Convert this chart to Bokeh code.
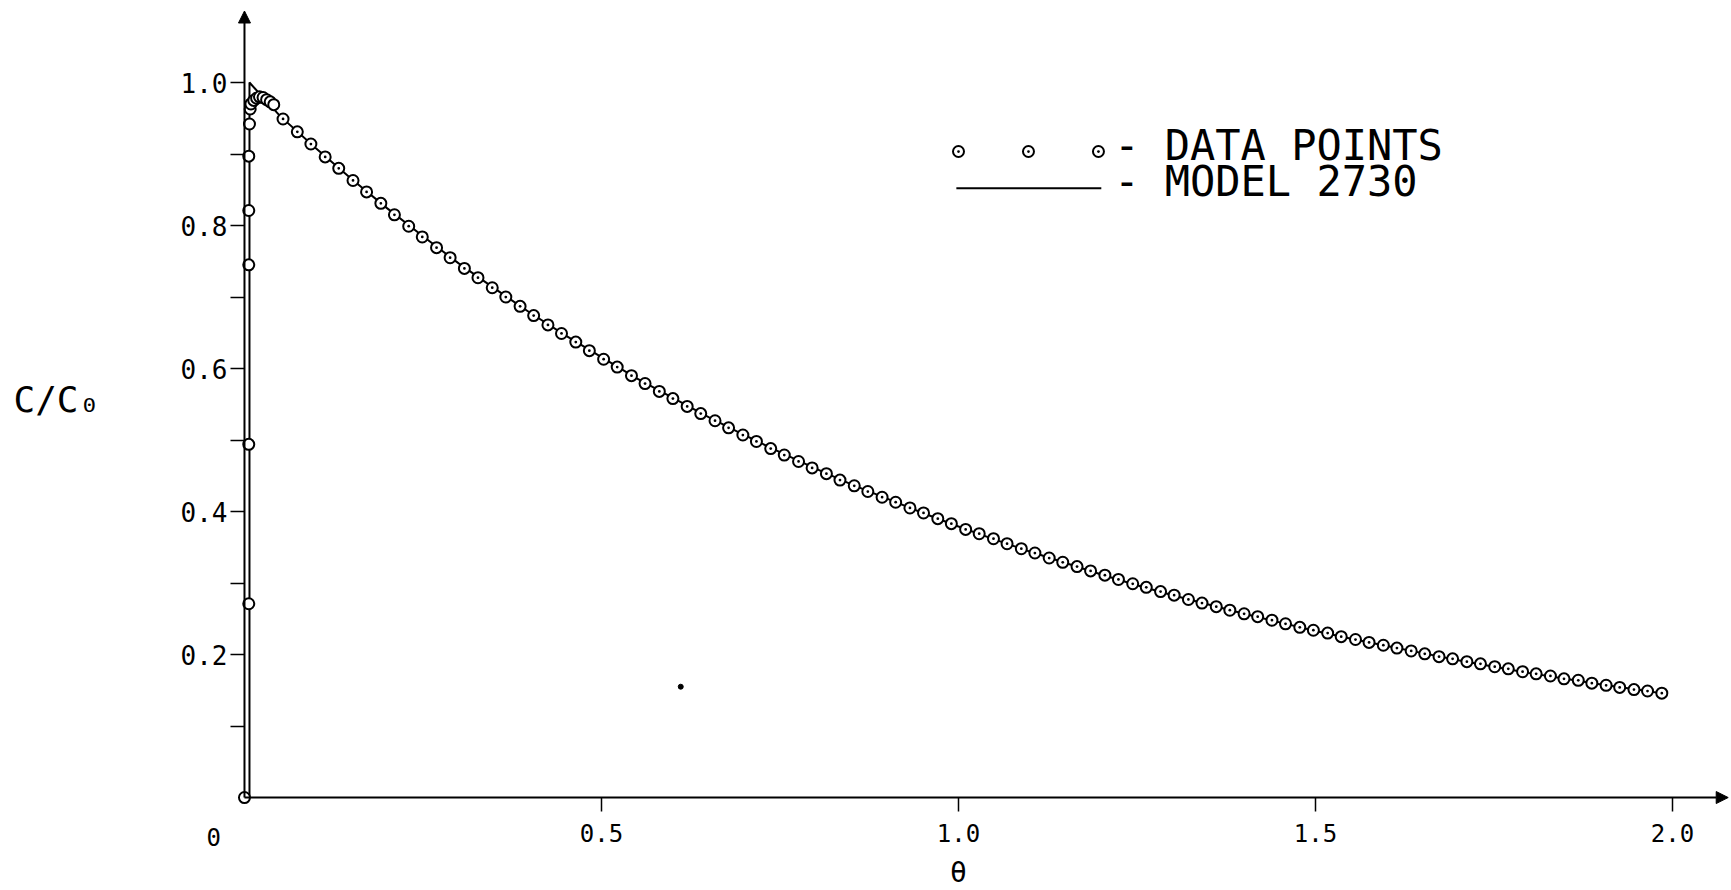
from bokeh.plotting import figure
from bokeh.models import (Range1d, LinearAxis, FixedTicker, Arrow, NormalHead,
                          Label, PrintfTickFormatter)
from bokeh.embed import file_html
from bokeh.resources import INLINE

# ---------------- data ----------------
# start-up points (vertical rise right after theta = 0)
theta_start = [0.000, 0.006, 0.006, 0.006, 0.006, 0.006, 0.007, 0.008, 0.009,
               0.013, 0.017, 0.021, 0.026, 0.031, 0.036, 0.041]
c_start = [0.000, 0.271, 0.494, 0.745, 0.821, 0.897, 0.942, 0.963, 0.970,
           0.975, 0.978, 0.980, 0.979, 0.976, 0.973, 0.969]

theta_data = [0.054, 0.074, 0.093, 0.113, 0.132, 0.152, 0.171, 0.191, 0.210, 0.230,
              0.249, 0.269, 0.288, 0.308, 0.327, 0.347, 0.366, 0.386, 0.405, 0.425,
              0.444, 0.464, 0.483, 0.503, 0.522, 0.542, 0.561, 0.581, 0.600, 0.620,
              0.639, 0.659, 0.678, 0.698, 0.717, 0.737, 0.756, 0.776, 0.795, 0.815,
              0.834, 0.854, 0.873, 0.893, 0.912, 0.932, 0.951, 0.971, 0.990, 1.010,
              1.029, 1.049, 1.068, 1.088, 1.107, 1.127, 1.146, 1.166, 1.185, 1.205,
              1.224, 1.244, 1.263, 1.283, 1.302, 1.322, 1.341, 1.361, 1.380, 1.400,
              1.419, 1.439, 1.458, 1.478, 1.497, 1.517, 1.536, 1.556, 1.575, 1.595,
              1.614, 1.634, 1.653, 1.673, 1.692, 1.712, 1.731, 1.751, 1.770, 1.790,
              1.809, 1.829, 1.848, 1.868, 1.887, 1.907, 1.926, 1.946, 1.965, 1.985]
c_data = [0.949, 0.931, 0.914, 0.896, 0.880, 0.863, 0.847, 0.831, 0.815, 0.799,
          0.784, 0.769, 0.755, 0.740, 0.727, 0.713, 0.700, 0.687, 0.674, 0.661,
          0.649, 0.637, 0.625, 0.613, 0.602, 0.590, 0.579, 0.568, 0.558, 0.547,
          0.537, 0.527, 0.517, 0.507, 0.498, 0.488, 0.479, 0.470, 0.461, 0.453,
          0.444, 0.436, 0.428, 0.420, 0.413, 0.405, 0.398, 0.390, 0.383, 0.375,
          0.369, 0.362, 0.355, 0.348, 0.342, 0.335, 0.329, 0.323, 0.317, 0.311,
          0.305, 0.299, 0.294, 0.288, 0.283, 0.277, 0.272, 0.267, 0.262, 0.257,
          0.253, 0.248, 0.243, 0.238, 0.234, 0.230, 0.225, 0.221, 0.217, 0.213,
          0.209, 0.205, 0.201, 0.197, 0.194, 0.190, 0.187, 0.183, 0.180, 0.176,
          0.173, 0.170, 0.166, 0.164, 0.160, 0.157, 0.154, 0.151, 0.149, 0.146]

theta_model = [0.007, 0.007, 0.05, 0.10, 0.15, 0.20, 0.25, 0.30, 0.35, 0.40, 0.45,
               0.50, 0.55, 0.60, 0.65, 0.70, 0.75, 0.80, 0.85, 0.90, 0.95,
               1.00, 1.05, 1.10, 1.15, 1.20, 1.25, 1.30, 1.35, 1.40, 1.45,
               1.50, 1.55, 1.60, 1.65, 1.70, 1.75, 1.80, 1.85, 1.90, 1.95, 1.99]
c_model = [0.000, 1.000, 0.953, 0.908, 0.865, 0.824, 0.785, 0.747, 0.712, 0.678, 0.646,
           0.616, 0.586, 0.559, 0.532, 0.507, 0.483, 0.460, 0.438, 0.418, 0.398,
           0.379, 0.361, 0.344, 0.328, 0.312, 0.297, 0.283, 0.270, 0.257, 0.245,
           0.233, 0.222, 0.212, 0.202, 0.192, 0.183, 0.174, 0.166, 0.158, 0.151, 0.145]

stray_theta = [0.611]
stray_c = [0.155]

x_ticks = [0.5, 1.0, 1.5, 2.0]
y_ticks = [0.2, 0.4, 0.6, 0.8, 1.0]
y_minor = [0.1, 0.3, 0.5, 0.7, 0.9]

series_labels = ["- DATA POINTS", "- MODEL 2730"]
y_title = "C/C\u2080"
x_title = "\u03b8"
origin_label = "0"

FONT = "DejaVu Sans Mono"

# ---------------- figure ----------------
p = figure(width=1731, height=890, output_backend="svg", toolbar_location=None,
           x_range=Range1d(-0.3417, 2.0826), y_range=Range1d(-0.130, 1.1147),
           x_axis_type=None, y_axis_type=None, min_border=0)
p.outline_line_color = None
p.background_fill_color = "white"

yax = LinearAxis(fixed_location=0,
                 ticker=FixedTicker(ticks=y_ticks, minor_ticks=y_minor),
                 formatter=PrintfTickFormatter(format="%.1f"),
                 axis_line_color=None,
                 major_tick_out=14, major_tick_in=0, minor_tick_out=14, minor_tick_in=0,
                 major_tick_line_width=1.5, minor_tick_line_width=1.5,
                 major_label_text_font=FONT, major_label_text_font_size="26px",
                 major_label_text_color="black", major_label_standoff=3)
p.add_layout(yax, "left")

xax = LinearAxis(fixed_location=0,
                 ticker=FixedTicker(ticks=x_ticks, minor_ticks=[]),
                 formatter=PrintfTickFormatter(format="%.1f"),
                 axis_line_color=None,
                 major_tick_out=14, major_tick_in=0, minor_tick_out=0, minor_tick_in=0,
                 major_tick_line_width=1.5,
                 major_label_text_font=FONT, major_label_text_font_size="24px",
                 major_label_text_color="black", major_label_standoff=12)
p.add_layout(xax, "below")

# axis lines with arrow heads
p.add_layout(Arrow(end=NormalHead(size=12, fill_color="black", line_color="black"),
                   x_start=0, y_start=0, x_end=0, y_end=1.10,
                   line_width=2, line_color="black"))
p.add_layout(Arrow(end=NormalHead(size=12, fill_color="black", line_color="black"),
                   x_start=0, y_start=0, x_end=2.078, y_end=0,
                   line_width=2, line_color="black"))

# model curve
p.line(theta_model, c_model, line_width=2, line_color="black")

# data points
p.scatter(theta_start, c_start, marker="circle", size=11, line_width=2,
          line_color="black", fill_color="white")
p.scatter(theta_data, c_data, marker="circle_dot", size=11, line_width=2,
          line_color="black", fill_color="white")
p.scatter(stray_theta, stray_c, marker="circle", size=5, line_color="black",
          fill_color="black")

# legend (drawn like the original plotter legend)
p.scatter([1.0, 1.098, 1.196], [0.9035] * 3, marker="circle_dot", size=11,
          line_width=2, line_color="black", fill_color="white")
p.line([0.997, 1.200], [0.852, 0.852], line_width=2, line_color="black")
p.add_layout(Label(x=1.218, y=0.912, text=series_labels[0], text_font=FONT,
                   text_font_size="42px", text_baseline="middle", text_color="black"))
p.add_layout(Label(x=1.218, y=0.862, text=series_labels[1], text_font=FONT,
                   text_font_size="42px", text_baseline="middle", text_color="black"))

# titles
p.add_layout(Label(x=-0.3235, y=0.556, text=y_title, text_font=FONT,
                   text_font_size="36px", text_baseline="middle", text_color="black"))
p.add_layout(Label(x=1.0, y=-0.105, text=x_title, text_font=FONT,
                   text_font_size="28px", text_baseline="middle", text_align="center",
                   text_color="black"))
p.add_layout(Label(x=-0.043, y=-0.0545, text=origin_label, text_font=FONT,
                   text_font_size="24px", text_baseline="middle", text_align="center",
                   text_color="black"))

open("out.html", "w").write(file_html(p, INLINE))
